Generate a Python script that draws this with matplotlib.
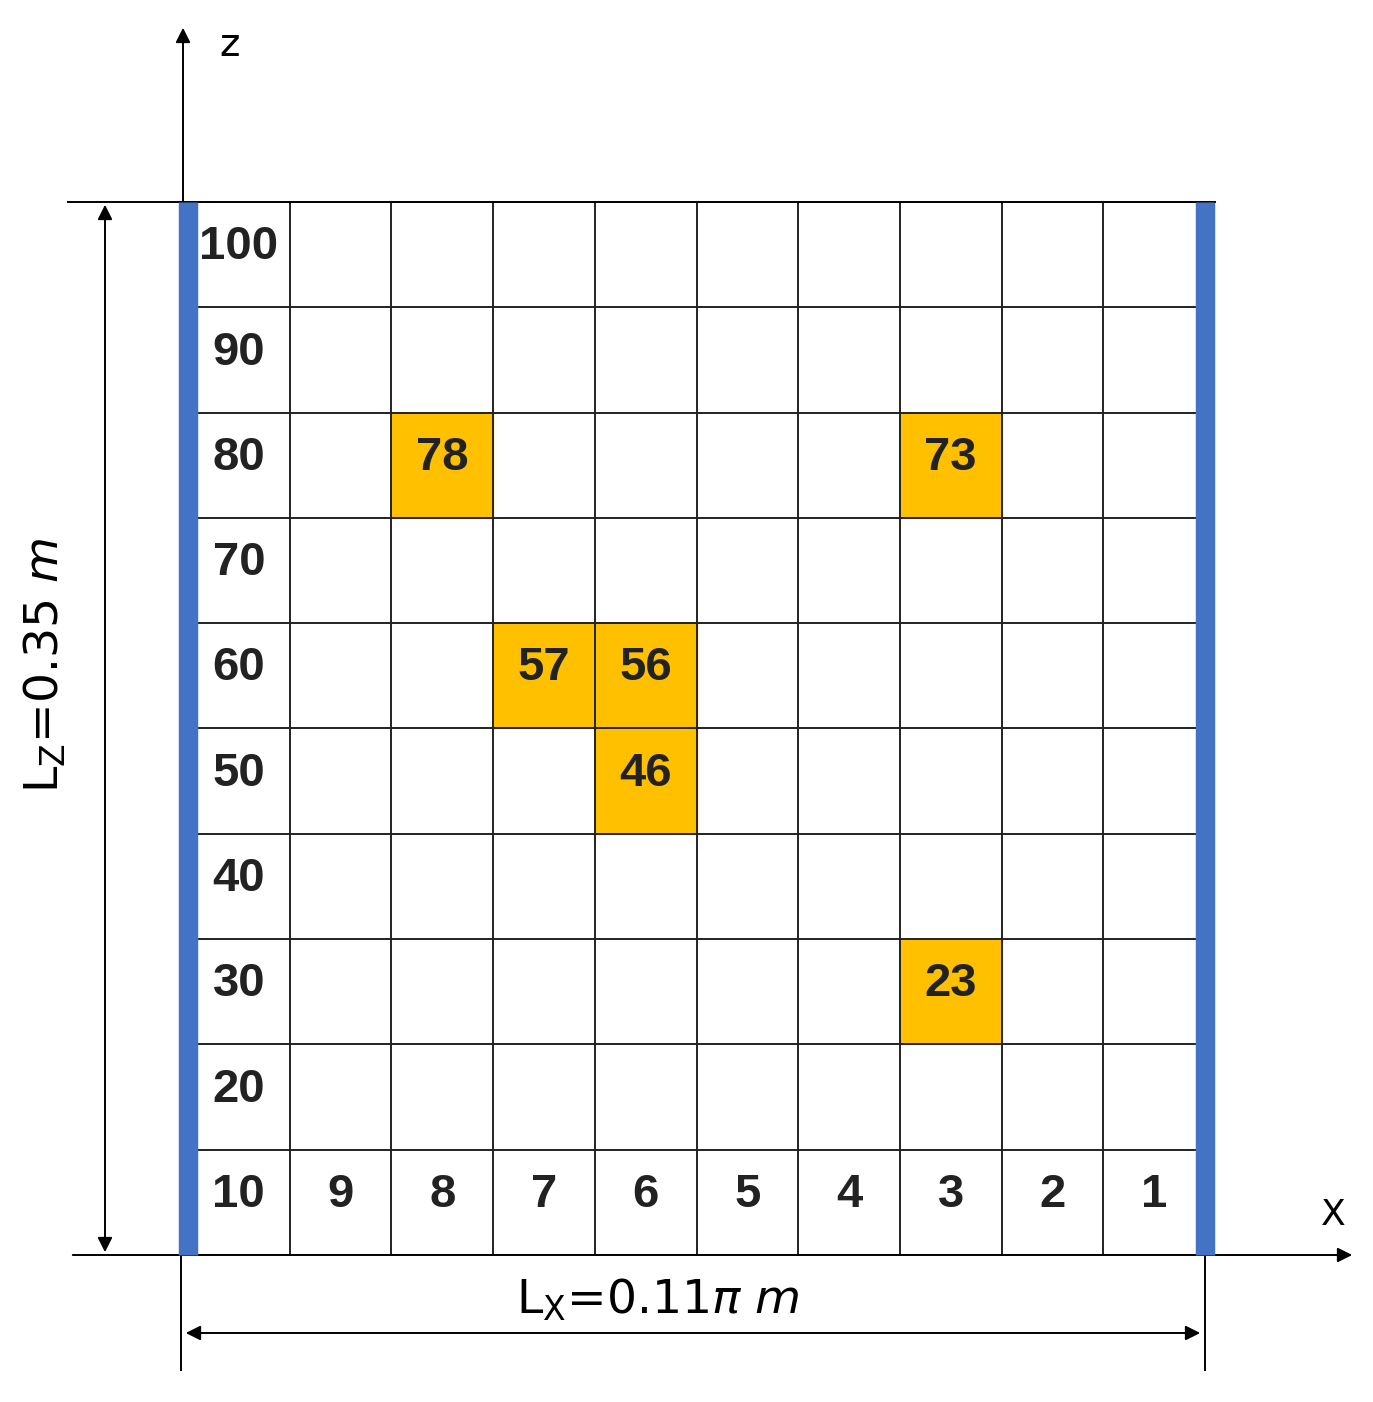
import matplotlib
matplotlib.use("Agg")
import matplotlib.pyplot as plt
from matplotlib.patches import Rectangle

# grid of 10 x 10 cells, numbered 1..100 from bottom-right
NCOL, NROW = 10, 10
row_labels = [10, 20, 30, 40, 50, 60, 70, 80, 90, 100]
col_labels = [10, 9, 8, 7, 6, 5, 4, 3, 2, 1]
highlight = [78, 73, 57, 56, 46, 23]
BLUE, GOLD = "#4472C4", "#FFC000"

def cell_xy(n):
    r = (n - 1) // 10
    c = 9 - (n - 1) % 10
    return c, r

W, H = 1373, 1402
fig = plt.figure(figsize=(W / 100, H / 100), dpi=100)
gl, gr, gt, gb = 188, 1205, 202, 1255
ax = fig.add_axes([gl / W, (H - gb) / H, (gr - gl) / W, (gb - gt) / H])
ax.set_xlim(0, NCOL); ax.set_ylim(0, NROW); ax.axis("off")
sx = NCOL / (gr - gl); sy = NROW / (gb - gt)
def px(x): return (x - gl) * sx
def py(y): return (gb - y) * sy

TY = 0.57  # vertical text position inside a cell
tkw = dict(ha="center", va="center", fontsize=34, fontweight="bold",
           color="#222222", family="Liberation Sans", zorder=3)
for n in highlight:
    c, r = cell_xy(n)
    ax.add_patch(Rectangle((c, r), 1, 1, color=GOLD, zorder=1))
    ax.text(c + 0.5, r + TY, str(n), **tkw)
for i in range(NCOL + 1):
    ax.plot([i, i], [0, NROW], color="#222222", lw=1.4, zorder=2)
for j in range(NROW + 1):
    ax.plot([0, NCOL], [j, j], color="#222222", lw=1.4, zorder=2)
for j, lab in enumerate(row_labels):
    ax.text(0.5, j + TY, str(lab), **tkw)
for i, lab in enumerate(col_labels[1:], start=1):
    ax.text(i + 0.5, TY, str(lab), **tkw)

# blue walls
for x in (0.0, NCOL):
    ax.plot([x, x], [0, NROW], color=BLUE, lw=14, solid_capstyle="butt",
            zorder=4, clip_on=False)

kw = dict(clip_on=False, color="black", lw=1.4)
ax.plot([px(68), px(1215)], [py(202), py(202)], **kw)
akw = dict(color="black", lw=1.4, mutation_scale=22)
ax.annotate("", xy=(px(183), py(25)), xytext=(px(183), py(1255)),
            arrowprops=dict(arrowstyle="-|>", **akw), annotation_clip=False)
ax.annotate("", xy=(px(1355), py(1255)), xytext=(px(70), py(1255)),
            arrowprops=dict(arrowstyle="-|>", **akw), annotation_clip=False)
ax.text(px(230), py(45), "z", fontsize=28, ha="center", va="center", family="DejaVu Sans")
ax.text(px(1333), py(1215), "X", fontsize=26, ha="center", va="center", family="DejaVu Sans")

# dimension arrows
ax.annotate("", xy=(px(105), py(202)), xytext=(px(105), py(1255)),
            arrowprops=dict(arrowstyle="<|-|>", **akw), annotation_clip=False)
ax.text(px(45), py(665), r"L$_\mathrm{Z}$=0.35 $m$", fontsize=34, rotation=90,
        ha="center", va="center", family="DejaVu Sans")
for x in (181, 1205):
    ax.plot([px(x), px(x)], [py(1255), py(1370)], **kw)
ax.annotate("", xy=(px(183), py(1333)), xytext=(px(1203), py(1333)),
            arrowprops=dict(arrowstyle="<|-|>", **akw), annotation_clip=False)
ax.text(px(658), py(1300), r"L$_\mathrm{X}$=0.11$\pi$ $m$", fontsize=34,
        ha="center", va="center", family="DejaVu Sans")

fig.savefig("out.png", dpi=100)
